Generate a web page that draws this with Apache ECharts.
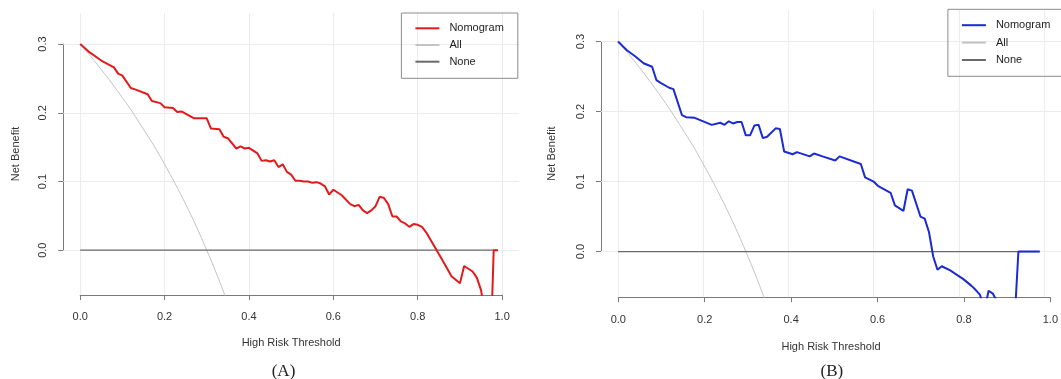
<!DOCTYPE html>
<html>
<head>
<meta charset="utf-8">
<style>
  html, body { margin: 0; padding: 0; background: #fff; }
  #chart { width: 1061px; height: 379px; }
</style>
<script src="https://cdn.jsdelivr.net/npm/echarts@6/dist/echarts.min.js"></script>
</head>
<body>
<div id="chart"></div>
<script>
// treat-all curve (same prevalence in both panels)
var allT  = [0, 0.025, 0.05, 0.075, 0.10, 0.125, 0.15, 0.175, 0.20, 0.225, 0.25, 0.275, 0.30, 0.325, 0.35]
var allNB = [0.300, 0.282, 0.263, 0.243, 0.222, 0.200, 0.176, 0.152, 0.125, 0.097, 0.067, 0.035, 0.000, -0.037, -0.077]

// treat-none
var noneT  = [0, 0.99]
var noneNB = [0, 0]

// (A) nomogram
var nomoA_T = [0, 0.02, 0.05, 0.08, 0.09, 0.10, 0.12, 0.13, 0.16, 0.17, 0.19, 0.20, 0.22, 0.23, 0.24, 0.27, 0.30, 0.31,
  0.33, 0.34, 0.35, 0.37, 0.38, 0.39, 0.40, 0.42, 0.43, 0.44, 0.45, 0.46, 0.47, 0.48, 0.49, 0.50, 0.51, 0.52,
  0.53, 0.54, 0.55, 0.56, 0.57, 0.58, 0.59, 0.60, 0.61, 0.62, 0.64, 0.65, 0.66, 0.67, 0.68, 0.69, 0.70, 0.71,
  0.72, 0.73, 0.74, 0.75, 0.76, 0.77, 0.78, 0.79, 0.80, 0.81, 0.82, 0.84, 0.86, 0.88, 0.90, 0.91, 0.93, 0.94,
  0.95, 0.96, 0.97, 0.98, 0.99]
var nomoA_NB = [0.300, 0.289, 0.276, 0.266, 0.257, 0.254, 0.236, 0.234, 0.227, 0.217, 0.214, 0.208, 0.207, 0.201, 0.202, 0.192, 0.192, 0.177,
  0.176, 0.165, 0.163, 0.148, 0.151, 0.148, 0.149, 0.141, 0.130, 0.131, 0.129, 0.131, 0.121, 0.125, 0.114, 0.110, 0.101, 0.101,
  0.100, 0.100, 0.098, 0.099, 0.097, 0.093, 0.081, 0.088, 0.084, 0.080, 0.067, 0.064, 0.066, 0.058, 0.054, 0.058, 0.064, 0.078,
  0.076, 0.067, 0.049, 0.049, 0.042, 0.039, 0.034, 0.038, 0.037, 0.034, 0.026, 0.005, -0.016, -0.038, -0.048, -0.023, -0.031, -0.040,
  -0.058, -0.095, -0.200, 0, 0]

// (B) nomogram
var nomoB_T = [0, 0.02, 0.04, 0.06, 0.08, 0.09, 0.10, 0.12, 0.13, 0.15, 0.16, 0.18, 0.20, 0.22, 0.24, 0.25, 0.26, 0.27,
  0.28, 0.29, 0.30, 0.31, 0.32, 0.33, 0.34, 0.35, 0.37, 0.38, 0.39, 0.41, 0.42, 0.45, 0.46, 0.48, 0.51, 0.52,
  0.57, 0.58, 0.60, 0.61, 0.64, 0.65, 0.67, 0.68, 0.69, 0.71, 0.72, 0.73, 0.74, 0.75, 0.76, 0.78, 0.80, 0.81,
  0.83, 0.84, 0.85, 0.86, 0.87, 0.88, 0.89, 0.90, 0.93, 0.94, 0.99]
var nomoB_NB = [0.300, 0.288, 0.279, 0.269, 0.264, 0.245, 0.241, 0.234, 0.232, 0.195, 0.192, 0.191, 0.186, 0.181, 0.184, 0.181, 0.186, 0.183,
  0.185, 0.185, 0.166, 0.166, 0.180, 0.181, 0.162, 0.164, 0.176, 0.175, 0.143, 0.139, 0.142, 0.136, 0.140, 0.136, 0.130, 0.136,
  0.125, 0.106, 0.100, 0.094, 0.084, 0.066, 0.058, 0.089, 0.087, 0.050, 0.047, 0.028, -0.007, -0.026, -0.021, -0.027, -0.035, -0.039,
  -0.049, -0.055, -0.062, -0.085, -0.056, -0.060, -0.072, -0.080, -0.110, 0, 0]

var xTicks = [0, 0.2, 0.4, 0.6, 0.8, 1.0]
var yTicks = [0, 0.1, 0.2, 0.3]
var xLim = [0, 1]
var yLim = [-0.05, 0.33]

const FONT = "'Liberation Sans', Arial, sans-serif"

// R style: plotting region is the limits padded by 4%
function usr (lim) {
  var d = (lim[1] - lim[0]) * 0.04
  return [lim[0] - d, lim[1] + d]
}
var xUsr = usr(xLim)
var yUsr = usr(yLim)

function zip (t, v) {
  return t.map(function (x, i) { return [x, v[i]] })
}

var panels = [
  {
    tag: '', caption: '(A)', color: '#e31a1c', t: nomoA_T, nb: nomoA_NB,
    plot: { left: 63.3, top: 13, width: 455.7, height: 282 },
    xLabelMargin: 16, xNameGap: 42.5, yNameGap: 42,
    legend: { left: 401.4, top: 13, gap: 5.5, padding: [9.7, 14, 11, 13] },
    capX: 283.5
  },
  {
    tag: ' ', caption: '(B)', color: '#1c2bd1', t: nomoB_T, nb: nomoB_NB,
    plot: { left: 601, top: 9.9, width: 467.6, height: 287.3 },
    xLabelMargin: 17, xNameGap: 44.5, yNameGap: 43.5,
    legend: { left: 947.9, top: 9.3, gap: 6.2, padding: [10.3, 14, 10.7, 13] },
    capX: 831.9
  }
]

var option = {
  animation: false,
  backgroundColor: '#fff',
  title: [], grid: [], xAxis: [], yAxis: [], legend: [], series: []
}

panels.forEach(function (p, i) {
  var g = p.plot
  // grid spanning exactly the tick range, used for R-style axes
  var ax = {
    left: g.left + g.width * (xLim[0] - xUsr[0]) / (xUsr[1] - xUsr[0]),
    width: g.width * 1 / (xUsr[1] - xUsr[0]),
    top: g.top + g.height * (yUsr[1] - 0.3) / (yUsr[1] - yUsr[0]),
    height: g.height * 0.3 / (yUsr[1] - yUsr[0])
  }
  var pg = 2 * i, ag = 2 * i + 1
  option.grid.push({ left: g.left, top: g.top, width: g.width, height: g.height })
  option.grid.push({ left: ax.left, top: ax.top, width: ax.width, height: ax.height })

  option.xAxis.push({
    gridIndex: pg, type: 'value', min: xUsr[0], max: xUsr[1],
    axisLine: { show: false }, axisTick: { show: false }, axisLabel: { show: false }, splitLine: { show: false },
    name: 'High Risk Threshold', nameLocation: 'middle', nameGap: p.xNameGap,
    nameTextStyle: { fontFamily: FONT, fontSize: 11, color: '#333' }
  })
  option.yAxis.push({
    gridIndex: pg, type: 'value', min: yUsr[0], max: yUsr[1],
    axisLine: { show: false }, axisTick: { show: false }, axisLabel: { show: false }, splitLine: { show: false },
    name: 'Net Benefit', nameLocation: 'middle', nameGap: p.yNameGap,
    nameTextStyle: { fontFamily: FONT, fontSize: 11, color: '#333' }
  })
  option.xAxis.push({
    gridIndex: ag, type: 'value', min: 0, max: 1, interval: 0.2,
    offset: (g.top + g.height) - (ax.top + ax.height),
    axisLine: { onZero: false, lineStyle: { color: '#7a7a7a', width: 1 } },
    axisTick: { length: 5, lineStyle: { color: '#7a7a7a' } },
    axisLabel: { margin: p.xLabelMargin, fontFamily: FONT, fontSize: 11, color: '#333',
      formatter: function (v) { return v.toFixed(1) } },
    splitLine: { show: false }
  })
  option.yAxis.push({
    gridIndex: ag, type: 'value', min: 0, max: 0.3, interval: 0.1,
    offset: ax.left - g.left,
    axisLine: { onZero: false, lineStyle: { color: '#7a7a7a', width: 1 } },
    axisTick: { length: 5, lineStyle: { color: '#7a7a7a' } },
    axisLabel: { margin: 15, rotate: 90, fontFamily: FONT, fontSize: 11, color: '#333',
      formatter: function (v) { return v.toFixed(1) } },
    splitLine: { show: false }
  })

  // light grid lines across the whole plotting region
  option.series.push({
    type: 'line', xAxisIndex: pg, yAxisIndex: pg, data: [], z: 1, silent: true,
    markLine: {
      z: 1, silent: true, symbol: ['none', 'none'], label: { show: false },
      lineStyle: { color: '#ececec', width: 1, type: 'solid' },
      data: xTicks.map(function (v) { return { xAxis: v } })
        .concat(yTicks.map(function (v) { return { yAxis: v } }))
    }
  })
  option.series.push({
    name: 'All' + p.tag, type: 'line', xAxisIndex: pg, yAxisIndex: pg, z: 6,
    data: zip(allT, allNB), smooth: 0.3, symbol: 'none',
    lineStyle: { color: '#c3c3c3', width: 1 }, itemStyle: { color: '#c3c3c3' }
  })
  option.series.push({
    name: 'None' + p.tag, type: 'line', xAxisIndex: pg, yAxisIndex: pg, z: 6,
    data: zip(noneT, noneNB), symbol: 'none',
    lineStyle: { color: '#6a6a6a', width: 1.2 }, itemStyle: { color: '#6a6a6a' }
  })
  option.series.push({
    name: 'Nomogram' + p.tag, type: 'line', xAxisIndex: pg, yAxisIndex: pg, z: 8,
    data: zip(p.t, p.nb), symbol: 'none',
    lineStyle: { color: p.color, width: 2 }, itemStyle: { color: p.color }
  })

  option.legend.push({
    left: p.legend.left, top: p.legend.top, orient: 'vertical',
    data: ['Nomogram' + p.tag, 'All' + p.tag, 'None' + p.tag],
    formatter: function (n) { return n.trim() },
    itemWidth: 24, itemHeight: 14, itemGap: p.legend.gap, padding: p.legend.padding,
    itemStyle: { opacity: 0 },
    borderColor: '#8a8a8a', borderWidth: 1, borderRadius: 0, selectedMode: false,
    textStyle: { fontFamily: FONT, fontSize: 11, color: '#222', padding: [0, 0, 0, 5] }
  })

  option.title.push({
    text: p.caption, left: p.capX, top: 363, textAlign: 'center', padding: 0,
    textStyle: { fontFamily: "'Liberation Serif', 'Times New Roman', serif", fontSize: 17, fontWeight: 'normal', color: '#222' }
  })
})

var chart = echarts.init(document.getElementById('chart'))
chart.setOption(option)
</script>
</body>
</html>
